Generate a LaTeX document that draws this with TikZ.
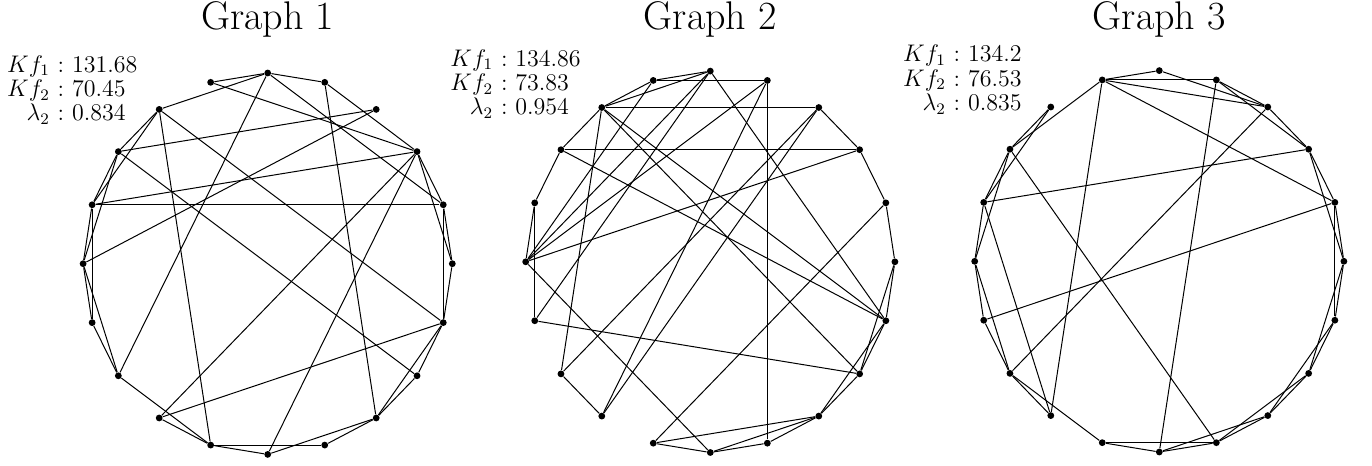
\documentclass[tikz,border=0pt]{standalone}
\usepackage{amsmath}
\usetikzlibrary{positioning}
\tikzset{
  vertex/.style={
    circle,
    fill=black,
    inner sep=0pt,
    minimum size=3.4pt
  },
  link/.style={
    line width=0.5pt
  },
  title/.style={
    anchor=base,
    inner sep=0pt,
    font=\fontsize{20}{22}\selectfont
  },
  info/.style={
    anchor=base west,
    inner sep=0pt,
    font=\fontsize{12}{12.25}\selectfont
  }
}

\begin{document}
\begin{tikzpicture}[x=0.5pt,y=-0.5pt]

\useasboundingbox (0,0) rectangle (1372,466);

% vertices on an ellipse, 0 at the top, clockwise
\foreach \g/\cx/\cy in {a/267.7/263.7, b/710.3/261.8, c/1159.3/261.3}
  \foreach \i in {0,...,19}
    \node[vertex] (\g\i) at ({\cx+184.6*cos(90-18*\i)},{\cy-190.7*sin(90-18*\i)}) {};

\node[title] (t1) at (267.7,29.5) {Graph 1};
\node[title] (t2) at (710.3,29.5) {Graph 2};
\node[title] (t3) at (1159.3,29.5) {Graph 3};

\node[info] (k1) at (6.7,72) {$\begin{array}[t]{@{}r@{\ :\ }l@{}}
  Kf_1 & 131.68\\ Kf_2 & 70.45\\ \lambda_2 & 0.834\end{array}$};
\node[info] (k2) at (450,66) {$\begin{array}[t]{@{}r@{\ :\ }l@{}}
  Kf_1 & 134.86\\ Kf_2 & 73.83\\ \lambda_2 & 0.954\end{array}$};
\node[info] (k3) at (902.7,61.7) {$\begin{array}[t]{@{}r@{\ :\ }l@{}}
  Kf_1 & 134.2\\ Kf_2 & 76.53\\ \lambda_2 & 0.835\end{array}$};

% Graph 1
\foreach \u/\v in {19/0, 0/1, 18/0, 0/13, 0/4, 19/3, 1/3, 1/8, 2/17, 2/15,
    3/16, 16/4, 18/11, 17/7, 18/6, 3/12, 3/10, 3/4, 3/5, 4/5, 4/6, 5/6,
    6/7, 6/8, 6/12, 7/8, 8/9, 10/8, 11/10, 11/9, 11/12, 13/11, 15/13,
    15/14, 14/13, 16/14, 16/15, 17/18, 17/16, 18/16, 17/15}
  \draw[link] (a\u) -- (a\v);

% Graph 2
\foreach \u/\v in {19/1, 18/2, 17/3, 1/9, 19/18, 18/0, 19/0, 18/17, 18/13,
    18/6, 18/7, 17/6, 14/0, 14/7, 16/15, 16/14, 15/10, 3/15, 2/13, 2/12,
    1/12, 4/11, 13/12, 11/10, 11/8, 10/9, 10/8, 9/8, 8/7, 8/6, 7/6, 7/5,
    0/6, 2/3, 3/4, 4/5, 5/6, 1/15, 19/15, 0/15, 17/16}
  \draw[link] (b\u) -- (b\v);

% Graph 3
\foreach \u/\v in {19/0, 0/2, 19/1, 19/2, 19/4, 19/17, 19/12, 1/2, 1/3, 1/10,
    2/3, 2/13, 3/16, 3/4, 3/5, 4/14, 4/6, 4/5, 5/6, 5/7, 6/7, 6/8, 7/8,
    7/9, 8/9, 8/10, 9/10, 11/9, 11/10, 17/9, 13/11, 13/12, 16/12, 15/13,
    14/13, 15/14, 16/15, 18/17, 18/16, 17/16, 17/15}
  \draw[link] (c\u) -- (c\v);

\end{tikzpicture}
\end{document}
